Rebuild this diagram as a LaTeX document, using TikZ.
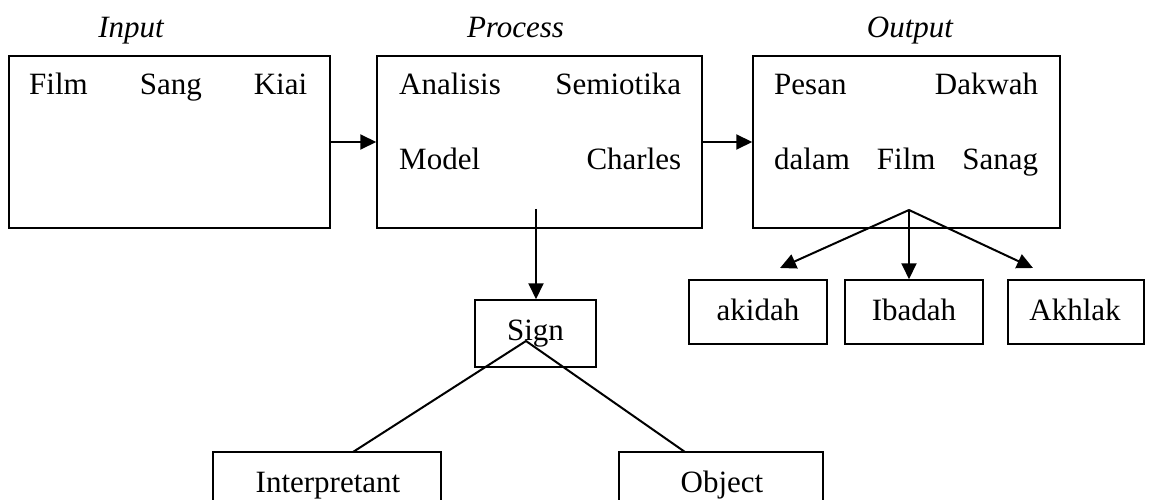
\documentclass[tikz,border=0pt]{standalone}
\usepackage{fontspec}
\setmainfont{Liberation Serif}
\usetikzlibrary{arrows.meta}
\begin{document}
\begin{tikzpicture}[x=1pt,y=-1pt,
  font=\fontsize{31}{37}\selectfont,
  box/.style={draw, line width=1.5pt, inner sep=0pt},
  txt/.style={inner sep=0pt, anchor=base},
  ttl/.style={inner sep=0pt, anchor=base, font=\fontsize{31}{37}\selectfont\itshape},
  row/.style={inner sep=0pt, anchor=base west},
  conn/.style={line width=2pt},
  arr/.style={conn, -{Triangle[length=16pt,width=15pt]}}]
\useasboundingbox (0,0) rectangle (1152,500);
\clip (0,0) rectangle (1152,500);

% titles
\node (tin)  [ttl] at (131,38) {Input};
\node (tpro) [ttl] at (515.5,38) {Process};
\node (tout) [ttl] at (910,38) {Output};

% main boxes
\node (inp)  [box, minimum width=321pt, minimum height=172pt] at (169.5,142) {};
\node (proc) [box, minimum width=325pt, minimum height=172pt] at (539.5,142) {};
\node (outp) [box, minimum width=307pt, minimum height=172pt] at (906.5,142) {};

\node (inp1)  [row, text width=278pt] at (29,95)  {Film\hfill Sang\hfill Kiai};
\node (proc1) [row, text width=282pt] at (399,95) {Analisis\hfill Semiotika};
\node (proc2) [row, text width=282pt] at (399,170) {Model\hfill Charles};
\node (outp1) [row, text width=264pt] at (774,95) {Pesan\hfill Dakwah};
\node (outp2) [row, text width=264pt] at (774,170) {dalam\hfill Film\hfill Sanag};

% lower boxes
\node (sign)   [box, minimum width=121pt, minimum height=67pt] at (535.5,333.5) {};
\node (signt)  [txt] at (535.5,340) {Sign};
\node (interp) [box, minimum width=228pt, minimum height=68pt] at (327,486) {};
\node (interpt)[txt] at (328,492) {Interpretant};
\node (obj)    [box, minimum width=204pt, minimum height=68pt] at (721,486) {};
\node (objt)   [txt] at (722,492) {Object};

\node (akid)  [box, minimum width=138pt, minimum height=64pt] at (758,312) {};
\node (akidt) [txt] at (758,320) {akidah};
\node (ibad)  [box, minimum width=138pt, minimum height=64pt] at (914,312) {};
\node (ibadt) [txt] at (914,320) {Ibadah};
\node (akhl)  [box, minimum width=136pt, minimum height=64pt] at (1076,312) {};
\node (akhlt) [txt] at (1075,320) {Akhlak};

% connectors
\draw[arr] (inp.east) -- (proc.west);
\draw[arr] (proc.east) -- (outp.west);

\coordinate (pfoot) at (536,209);
\draw[arr] (pfoot) -- (pfoot |- sign.north);

\coordinate (sapex) at (526,341);
\coordinate (iL) at (353,452);
\coordinate (oR) at (685,452);
\draw[conn] (iL) -- (sapex) -- (oR);

\coordinate (oapex) at (909,210);
\coordinate (tipA) at (780,268);
\coordinate (tipC) at (1033,268);
\draw[arr] (oapex) -- (tipA);
\draw[arr] (oapex) -- (oapex |- ibad.north);
\draw[arr] (oapex) -- (tipC);
\end{tikzpicture}
\end{document}
